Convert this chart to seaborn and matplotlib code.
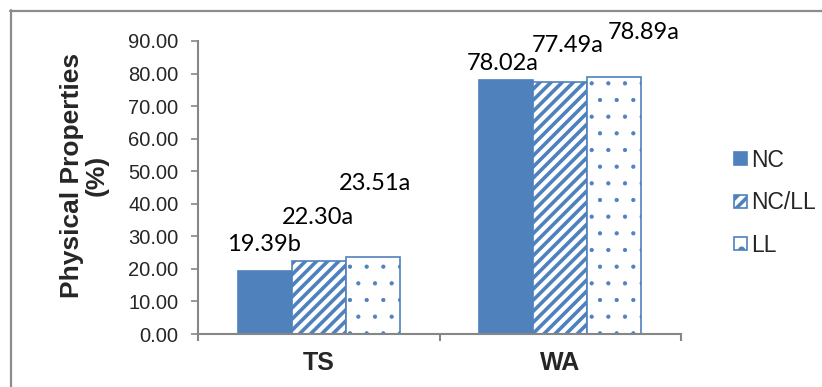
import matplotlib
matplotlib.use("Agg")
import matplotlib.pyplot as plt
from matplotlib.patches import Patch
from matplotlib.lines import Line2D
import seaborn as sns
import pandas as pd

# Data
properties = ["TS", "WA"]
treatments = ["NC", "NC/LL", "LL"]
nc_values = [19.39, 78.02]
ncll_values = [22.30, 77.49]
ll_values = [23.51, 78.89]
nc_letters = ["b", "a"]
ncll_letters = ["a", "a"]
ll_letters = ["a", "a"]
y_ticks = [0, 10, 20, 30, 40, 50, 60, 70, 80, 90]

df = pd.DataFrame({
    "Property": properties * 3,
    "Treatment": [t for t in treatments for _ in properties],
    "Value": nc_values + ncll_values + ll_values,
    "Letter": nc_letters + ncll_letters + ll_letters,
})

BLUE = "#4F81BD"
GRAY = "#868686"

sns.set_theme(style="white")
plt.rcParams["font.family"] = ["Liberation Sans", "DejaVu Sans"]
plt.rcParams["hatch.linewidth"] = 2.6

fig = plt.figure(figsize=(8.22, 3.87), dpi=100)
ax = fig.add_axes([198 / 822, 1 - 334 / 387, (681 - 198) / 822, (334 - 41) / 387])

sns.barplot(data=df, x="Property", y="Value", hue="Treatment",
            order=properties, hue_order=treatments, width=0.67, gap=0,
            palette=[BLUE] * 3, saturation=1, ax=ax, legend=False, errorbar=None)

styles = [
    dict(facecolor=BLUE, hatch=None, hlw=None),
    dict(facecolor="white", hatch="///", hlw=2.6),
    dict(facecolor="white", hatch=".", hlw=0.6),
]


def style_patch(p, st):
    p.set_facecolor(st["facecolor"])
    p.set_edgecolor(BLUE)
    p.set_linewidth(1.2)
    if st["hatch"]:
        p.set_hatch(st["hatch"])
        if hasattr(p, "set_hatch_linewidth"):
            p.set_hatch_linewidth(st["hlw"])
        else:
            p._hatch_linewidth = st["hlw"]


for cont, st in zip(ax.containers, styles):
    for bar in cont:
        style_patch(bar, st)

# Value labels (pixel offsets of label centres from bar tops)
label_offsets = [
    [(-1, 26), (-4, 17)],
    [(-1, 44), (7, 36)],
    [(2, 74), (30, 45)],
]
letters = [nc_letters, ncll_letters, ll_letters]
for cont, offs, lets in zip(ax.containers, label_offsets, letters):
    for bar, (dx, dy), let in zip(cont, offs, lets):
        val = bar.get_height()
        ax.annotate(f"{val:.2f}{let}",
                    xy=(bar.get_x() + bar.get_width() / 2, val),
                    xytext=(dx * 72 / 100, dy * 72 / 100), textcoords="offset points",
                    ha="center", va="center", fontsize=17, family="Lato",
                    color="black")

ax.set_ylim(0, 90)
ax.set_xlim(-0.5, 1.5)
ax.set_yticks(y_ticks)
ax.set_yticklabels([f"{v:.2f}" for v in y_ticks], fontsize=14.5)
ax.set_xticks([0, 1])
ax.set_xticklabels(properties, fontsize=18, fontweight="bold")
ax.set_xticks([-0.5, 0.5, 1.5], minor=True)
ax.tick_params(axis="x", which="major", length=0, pad=12)
ax.tick_params(axis="x", which="minor", length=5, width=1.5, color=GRAY, direction="out", bottom=True)
ax.tick_params(axis="y", which="major", length=5, width=1.2, color=GRAY, direction="out", left=True, pad=9)
ax.set_xlabel("")
ax.set_ylabel("Physical Properties\n(%)", fontsize=19, fontweight="bold",
              linespacing=1.05, va="center")
ax.yaxis.set_label_coords((84 - 198) / 483, 1 - (175 - 41) / 293)

for side in ["top", "right"]:
    ax.spines[side].set_visible(False)
for side in ["left", "bottom"]:
    ax.spines[side].set_color(GRAY)
    ax.spines[side].set_linewidth(1.5)

handles = []
for name, st in zip(treatments, styles):
    h = Patch(label=name)
    style_patch(h, st)
    handles.append(h)
fig.legend(handles=handles, loc="upper left", bbox_to_anchor=(734 / 822, 1 - 149 / 387),
           frameon=False, fontsize=16.5, handlelength=0.55, handleheight=0.5,
           handletextpad=0.2, labelspacing=0.85, borderpad=0, borderaxespad=0)

# Outer chart frame
fig.add_artist(Line2D([10 / 822, 1], [1 - 10.5 / 387] * 2, color="#8c8c8c", lw=1.6,
                      transform=fig.transFigure))
fig.add_artist(Line2D([10.5 / 822] * 2, [1 - 10 / 387, 0], color="#8c8c8c", lw=1.6,
                      transform=fig.transFigure))

fig.savefig("out.png", dpi=100)
